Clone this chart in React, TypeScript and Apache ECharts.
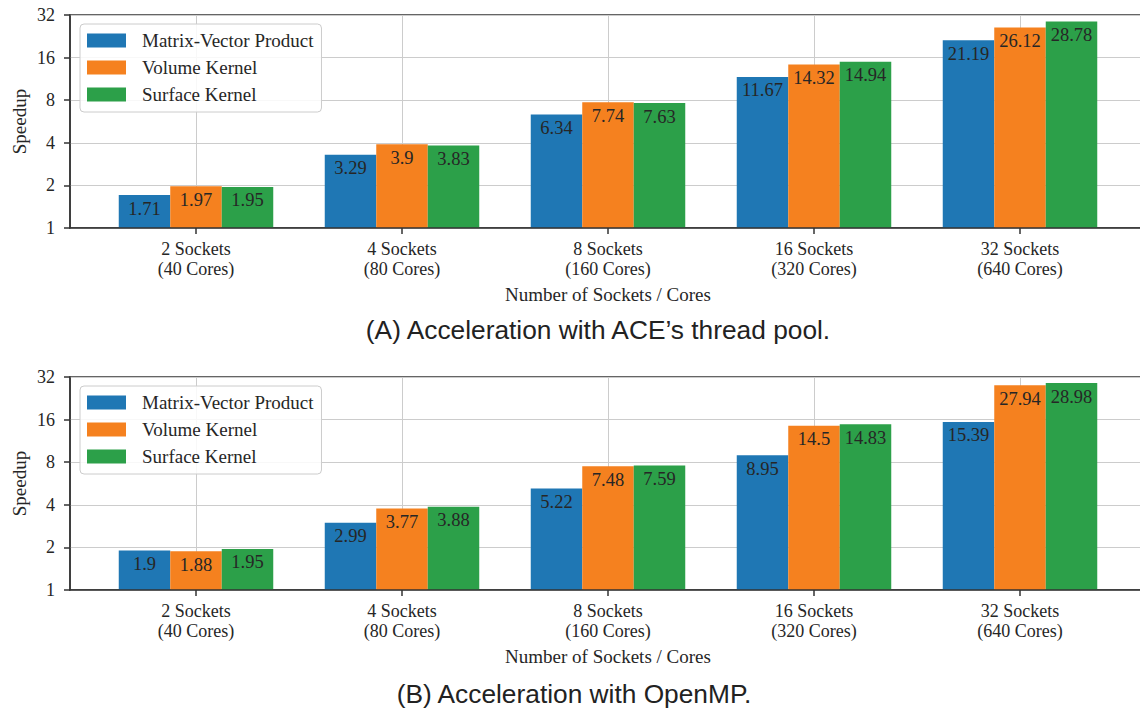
import { useEffect, useRef } from "react";
import * as echarts from "echarts";

const categories = [
  "2 Sockets\n(40 Cores)",
  "4 Sockets\n(80 Cores)",
  "8 Sockets\n(160 Cores)",
  "16 Sockets\n(320 Cores)",
  "32 Sockets\n(640 Cores)",
];
const seriesNames = ["Matrix-Vector Product", "Volume Kernel", "Surface Kernel"];
const aceMatVec = [1.71, 3.29, 6.34, 11.67, 21.19];
const aceVolume = [1.97, 3.9, 7.74, 14.32, 26.12];
const aceSurface = [1.95, 3.83, 7.63, 14.94, 28.78];
const ompMatVec = [1.9, 2.99, 5.22, 8.95, 15.39];
const ompVolume = [1.88, 3.77, 7.48, 14.5, 27.94];
const ompSurface = [1.95, 3.88, 7.59, 14.83, 28.98];
const yMin = 1;
const yMax = 32;
const yAxisTitle = "Speedup";
const xAxisTitle = "Number of Sockets / Cores";
const panelTitles = ["(A) Acceleration with ACE\u2019s thread pool.", "(B) Acceleration with OpenMP."];

const panels = [
  [aceMatVec, aceVolume, aceSurface],
  [ompMatVec, ompVolume, ompSurface],
];
const colors = ["#1f77b4", "#f5811f", "#2ca049"];

const SERIF = "Liberation Serif";
const TXT = "#262626";
const SPINE = "#333333";
const GRIDC = "#cccccc";

export default function App() {
  const ref = useRef<HTMLDivElement>(null);
  useEffect(() => {
    const chart = echarts.init(ref.current!, null, { renderer: "svg" });
    const panelTop = [15, 377];
    const h = 213;
    const grids: any[] = [];
    const xAxes: any[] = [];
    const yAxes: any[] = [];
    const series: any[] = [];
    const legends: any[] = [];
    panelTop.forEach((top, p) => {
      grids.push({ left: 70, top, width: 1076, height: h, show: true, borderColor: SPINE, borderWidth: 1.5, backgroundColor: "transparent", outerBoundsMode: "none" });
      grids.push({ left: 93, top, width: 1030, height: h, show: false, outerBoundsMode: "none" });
      const gf = p * 2;
      const gb = p * 2 + 1;
      xAxes.push({
        type: "value", gridIndex: gf, min: 0, max: 1, z: 5,
        axisLine: { show: true, lineStyle: { color: SPINE, width: 1.5 } },
        axisTick: { show: false }, axisLabel: { show: false }, splitLine: { show: false },
      });
      xAxes.push({
        type: "category", gridIndex: gb, data: categories, boundaryGap: true,
        axisLine: { show: false },
        axisTick: { show: true, alignWithLabel: true, length: 6, lineStyle: { color: SPINE, width: 1.5 } },
        axisLabel: { interval: 0, margin: 11, fontFamily: SERIF, fontSize: 18, lineHeight: 20, color: TXT },
        splitLine: { show: true, alignWithLabel: true, lineStyle: { color: GRIDC, width: 1 } },
        name: xAxisTitle, nameLocation: "middle", nameGap: 57, nameMoveOverlap: false,
        nameTextStyle: { fontFamily: SERIF, fontSize: 19, color: TXT },
      });
      yAxes.push({
        type: "log", logBase: 2, gridIndex: gf, min: yMin, max: yMax, interval: 1, splitNumber: 5,
        axisLine: { show: true, lineStyle: { color: SPINE, width: 1.5 } },
        axisTick: { show: true, length: 6, lineStyle: { color: SPINE, width: 1.5 } },
        axisLabel: { margin: 15, fontFamily: SERIF, fontSize: 18, color: TXT },
        splitLine: { show: true, lineStyle: { color: GRIDC, width: 1 } },
        name: yAxisTitle, nameLocation: "middle", nameGap: 41, nameMoveOverlap: false,
        nameTextStyle: { fontFamily: SERIF, fontSize: 19, color: TXT },
      });
      yAxes.push({ type: "log", logBase: 2, gridIndex: gb, min: yMin, max: yMax, show: false });
      panels[p].forEach((vals, s) => {
        series.push({
          type: "bar", name: seriesNames[s], xAxisIndex: gb, yAxisIndex: gb, data: vals,
          barWidth: "25%", barGap: "0%", itemStyle: { color: colors[s] },
          label: { show: true, position: "insideTop", distance: 4, fontFamily: SERIF, fontSize: 18.5, color: TXT, textBorderWidth: 0 },
        });
      });
      legends.push({
        orient: "vertical", left: 80, top: top + 9, data: seriesNames, icon: "rect",
        itemWidth: 39, itemHeight: 14, itemGap: 8, padding: [7, 8, 8, 7],
        backgroundColor: "rgba(255,255,255,0.85)", borderColor: "#cccccc", borderWidth: 1, borderRadius: 4,
        selectedMode: false,
        textStyle: { fontFamily: SERIF, fontSize: 19, color: TXT, lineHeight: 14, padding: [0, 0, 0, 11] },
      });
    });
    chart.setOption({
      animation: false,
      backgroundColor: "#ffffff",
      grid: grids,
      xAxis: xAxes,
      yAxis: yAxes,
      series,
      legend: legends,
      graphic: [
        { type: "text", x: 598, y: 330, style: { text: panelTitles[0], fill: "#222222", font: '26.3px "Liberation Sans"', textAlign: "center", textVerticalAlign: "middle" } },
        { type: "text", x: 574, y: 694, style: { text: panelTitles[1], fill: "#222222", font: '26.3px "Liberation Sans"', textAlign: "center", textVerticalAlign: "middle" } },
      ],
    });
    return () => chart.dispose();
  }, []);
  return <div ref={ref} style={{ position: "fixed", left: 0, top: 0, width: 1140, height: 710 }} />;
}
